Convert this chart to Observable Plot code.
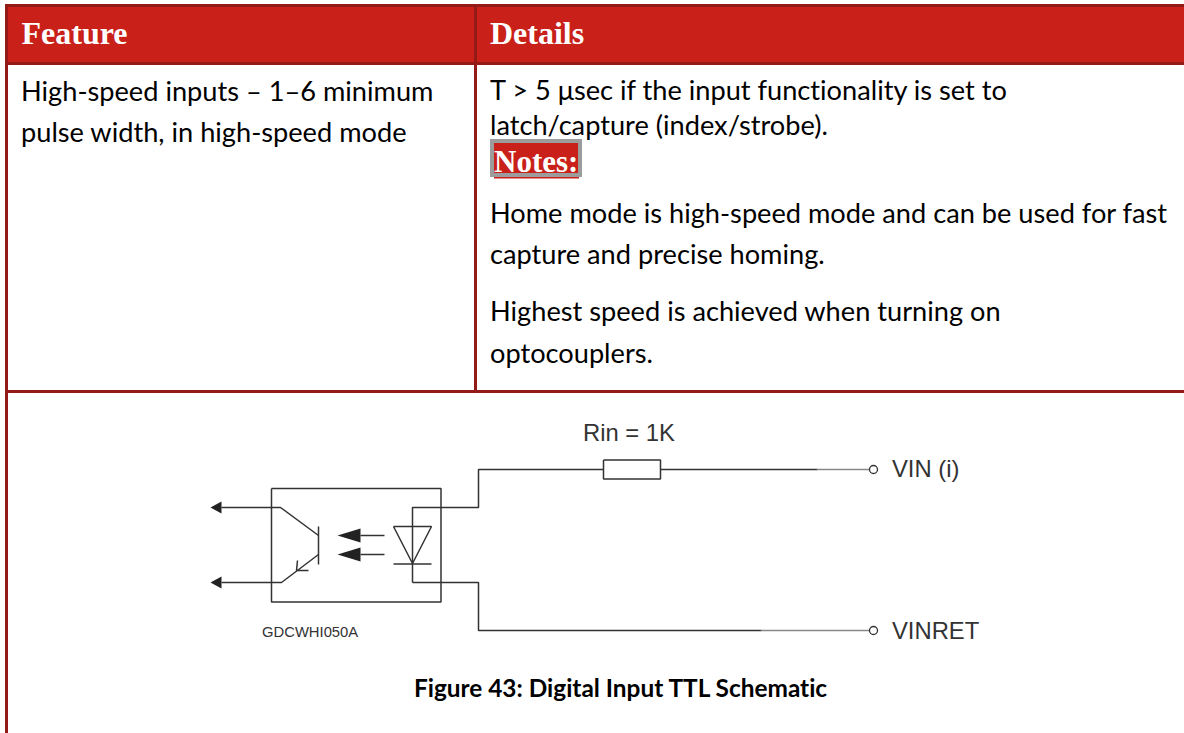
<!DOCTYPE html>
<html><head><meta charset="utf-8">
<style>html,body{margin:0;padding:0;background:#fff}svg{display:block}svg text{font-variant-ligatures:none}</style>
<script src="https://cdn.jsdelivr.net/npm/d3@7"></script>
<script src="https://cdn.jsdelivr.net/npm/@observablehq/plot@0.6"></script>
</head><body><div id="c"></div>
<script>
// Table text
const headerLabels = [["Feature",21,43],["Details",489.5,43]];
const bodyLabels = [
  ["High-speed inputs – 1–6 minimum",20.5,100],
  ["pulse width, in high-speed mode",20.5,141],
  ["Home mode is high-speed mode and can be used for fast",489.5,222],
  ["capture and precise homing.",489.5,263],
  ["Highest speed is achieved when turning on",489.5,320],
  ["optocouplers.",489.5,362]
];
const tightLabels = [["T > 5 μsec if the input functionality is set to",489.5,99],["latch/capture (index/strobe).",489.5,134]];
const noteLabel = [["Notes:",493.5,171]];
const captionLabel = [["Figure 43: Digital Input TTL Schematic",620,696]];
const schematicLabels = [["Rin = 1K",582.5,440],["VIN (i)",891.5,476],["VINRET",891.5,638]];
const partLabel = [["GDCWHI050A",261.5,636]];
// Table geometry
const headerFill = [[7,7,1184,62]];
const borders = [[5,4,1184,7],[5,62,1184,65],[5,390,1184,393],[5,4,8,733],[474,4,477,393]];
const noteBox = [[490,139,582,177]];
const noteFill = [[494,143,578,173]];
const noteRule = [[494,177,579,178.5]];
// Schematic wires: each is a polyline
const darkWires = [
  [[221,507],[280,507],[318,535]],
  [[318,526],[318,564]],
  [[318,554],[281,582],[221,582]],
  [[297,560],[296,570],[308,570]],
  [[360,535],[384,535]],[[360,554],[384,554]],
  [[393,526],[431,526],[412,563],[393,526]],
  [[393,563.5],[431,563.5]],
  [[412,582],[412,507],[478,507],[478,469],[603,469]],
  [[412,582],[478,582],[478,630],[761,630]],
  [[660,469],[817,469]],
  [[271,488],[440.5,488],[440.5,601.5],[271,601.5],[271,488]],
  [[603,459.5],[660,459.5],[660,478.5],[603,478.5],[603,459.5]]
];
const grayWires = [[[817,469],[869,469]],[[761,630],[869,630]]];
const arrowHeads = [
  [[210,507],[221,501],[221,513],[210,507]],
  [[210,582],[221,576],[221,588],[210,582]],
  [[337,535],[360,528],[360,542],[337,535]],
  [[337,554],[360,547],[360,561],[337,554]]
];
const terminals = [[873,469],[873,630]];

const polys = a => a.flatMap((p,i)=>p.map(([x,y])=>({x,y,i})));
const rects = (a,fill) => Plot.rect(a,{x1:d=>d[0],y1:d=>d[1],x2:d=>d[2],y2:d=>d[3],fill});
const label = (a,opts) => Plot.text(a,{text:d=>d[0],x:d=>d[1],y:d=>d[2],textAnchor:"start",lineAnchor:"bottom",...opts});
const BODY = "Lato, 'Open Sans', sans-serif";
const SERIF = "'Liberation Serif', serif";
const ARIAL = "'Liberation Sans', Arial, sans-serif";

const chart = Plot.plot({
  width:1184,height:733,margin:0,
  x:{domain:[0,1184],range:[0,1184],axis:null},
  y:{domain:[0,733],range:[0,733],axis:null},
  style:{background:"#fff"},
  marks:[
    rects(headerFill,"#c9201a"),
    rects(borders,"#941a17"),
    rects(noteBox,"#9c9c9c"),
    rects(noteFill,"#c9201a"),
    rects(noteRule,"#c9201a"),
    label(headerLabels,{fill:"#fff",fontFamily:SERIF,fontWeight:"bold",fontSize:32}),
    label(noteLabel,{fill:"#fff",fontFamily:SERIF,fontWeight:"bold",fontSize:31}),
    label(bodyLabels,{fill:"#000",fontFamily:BODY,fontSize:27.2}),
    label(tightLabels,{fill:"#000",fontFamily:BODY,fontSize:27.2}),
    label(captionLabel,{fill:"#000",fontFamily:BODY,fontWeight:"bold",fontSize:24.4,textAnchor:"middle"}),
    label(schematicLabels,{fill:"#333",fontFamily:ARIAL,fontSize:23.8}),
    label(partLabel,{fill:"#333",fontFamily:ARIAL,fontSize:14.8}),
    Plot.line(polys(darkWires),{x:"x",y:"y",z:"i",stroke:"#333",strokeWidth:1.5,strokeLinejoin:"miter",strokeLinecap:"butt"}),
    Plot.line(polys(grayWires),{x:"x",y:"y",z:"i",stroke:"#888",strokeWidth:1.5}),
    Plot.line(polys(arrowHeads),{x:"x",y:"y",z:"i",fill:"#222",stroke:"none"}),
    Plot.dot(terminals,{x:d=>d[0],y:d=>d[1],r:4,stroke:"#333",strokeWidth:1.3,fill:"#fff"})
  ]
});
document.getElementById("c").append(chart);
</script></body></html>
